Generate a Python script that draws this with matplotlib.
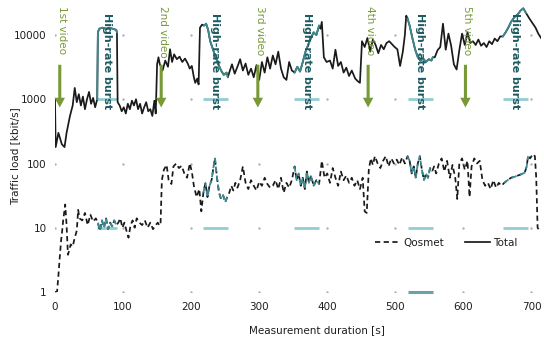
import numpy as np
import matplotlib
matplotlib.use("Agg")
import matplotlib.pyplot as plt

plt.rcParams['font.family'] = ['DejaVu Sans']

# ---------------- data ----------------
t_total = [0, 1, 5, 10, 14, 17, 22, 26, 29, 32, 35, 38, 41, 44, 47, 50, 53, 56, 59, 62,
           63, 65, 70, 75, 80, 85, 90, 91, 92, 95, 98, 101, 104, 107, 110, 113, 116, 119,
           122, 125, 128, 131, 134, 137, 140, 143, 146, 148, 150, 152, 154, 158, 162, 166,
           169, 172, 175, 179, 183, 187, 191, 195, 198, 201, 204, 206, 209, 211, 213, 216,
           219, 222, 225, 228, 232, 236, 240, 244, 248, 252, 254, 256, 260, 264, 268, 272,
           276, 280, 284, 288, 292, 296, 300, 304, 308, 312, 316, 320, 324, 328, 332, 336,
           340, 344, 348, 352, 356, 360, 364, 368, 372, 376, 380, 384, 388, 390, 392, 395,
           399, 404, 408, 412, 416, 420, 424, 428, 432, 436, 441, 445, 448, 451, 455, 459,
           463, 467, 471, 475, 479, 483, 487, 491, 495, 499, 503, 507, 511, 514, 516, 518,
           521, 525, 529, 533, 537, 541, 545, 549, 553, 555, 558, 562, 566, 570, 574, 578,
           582, 586, 590, 594, 598, 602, 606, 610, 614, 618, 622, 626, 630, 634, 638, 642,
           646, 650, 654, 658, 662, 666, 670, 675, 680, 684, 688, 692, 697, 702, 706, 710, 714]
total = [1000, 180, 300, 200, 180, 300, 550, 800, 1500, 900, 1200, 800, 1100, 700, 1000, 1300, 850, 1050, 750, 1000,
         11000, 12500, 13000, 12500, 13000, 12500, 12000, 11000, 900, 800, 650, 750, 600, 850, 700, 950, 800, 1000,
         700, 850, 600, 750, 900, 650, 700, 550, 950, 600, 3500, 4500, 3500, 2800, 4000, 3200,
         6000, 3800, 5000, 4200, 4600, 3800, 4300, 3600, 3000, 3300, 2200, 1800, 2100, 1700, 13000, 14500,
         14000, 15000, 12000, 8000, 6000, 4500, 3500, 2800, 2400, 2600, 2200, 2600, 3500, 2500, 3200, 4200,
         2800, 3600, 2400, 3000, 2200, 3400, 2000, 3800, 2600, 4500, 3000, 4800, 3500, 5500, 3000, 2200,
         2000, 3800, 2800, 2600, 3200, 2700, 3800, 5500, 7000, 9000, 11000, 10000, 14000, 12500, 16000, 4500,
         3800, 4000, 3000, 5900, 3300, 3800, 2600, 3100, 2300, 2800, 2100, 1900, 1800, 8000, 6500, 9000,
         5500, 8500, 7000, 5200, 7000, 6000, 7500, 8000, 7200, 6500, 6000, 3300, 5500, 10000, 20000, 18000,
         14000, 9000, 6000, 4500, 4000, 4300, 3800, 4200, 4000, 4500, 4500, 5800, 6500, 15000, 5900, 10500,
         6800, 3500, 2900, 5800, 10500, 7000, 11000, 7500, 8000, 7000, 8500, 6800, 7500, 6500, 8000, 7200,
         8800, 8000, 9500, 9500, 11000, 13000, 16000, 19000, 21000, 24000, 26000, 22000, 18000, 15000, 13000, 10500, 9000]

t_qosmet = [0, 3, 5, 7, 9, 10, 12, 14, 15, 17, 19, 21, 23, 26, 29, 32, 34, 36, 40, 44,
            48, 52, 56, 60, 63, 66, 69, 72, 75, 78, 81, 84, 87, 90, 93, 96, 99, 102, 105, 108,
            111, 114, 117, 120, 124, 128, 132, 136, 140, 144, 148, 151, 153, 155, 157, 160, 164, 167, 171, 174,
            178, 182, 186, 190, 194, 198, 201, 204, 208, 212, 215, 218, 221, 224, 227, 230, 233, 235, 238, 241,
            244, 247, 250, 253, 256, 259, 262, 265, 268, 272, 276, 280, 284, 288, 292, 296, 300, 304, 308, 312,
            316, 320, 324, 328, 332, 336, 340, 344, 348, 352, 355, 358, 361, 364, 367, 370, 373, 376, 380, 384,
            388, 392, 396, 400, 404, 408, 412, 416, 420, 424, 428, 432, 436, 440, 444, 448, 452, 455, 458, 461,
            464, 467, 470, 474, 478, 482, 486, 490, 494, 498, 502, 506, 510, 514, 518, 521, 524, 527, 530, 533,
            536, 539, 542, 545, 548, 551, 554, 557, 560, 564, 568, 572, 576, 580, 584, 588, 591, 594, 598, 602,
            606, 609, 612, 616, 620, 624, 628, 632, 636, 640, 644, 648, 652, 656, 660, 665, 670, 675, 680, 685,
            690, 693, 695, 698, 702, 705, 707, 709, 712]
qosmet = [1, 1, 1.8, 3.5, 6.4, 7.8, 13, 19, 23, 11, 3.8, 4.5, 5.5, 5.1, 7, 9, 19, 14, 13, 17,
          11, 16, 12.5, 14, 12, 9, 13, 10, 14, 9.5, 12, 10.5, 13, 11, 12, 14, 10, 12, 9, 7,
          11, 13, 10, 14, 12, 11, 13, 10, 12, 9.5, 11, 12, 11, 11, 55, 80, 95, 55, 48, 90,
          100, 85, 92, 70, 60, 100, 75, 45, 30, 40, 18, 35, 50, 30, 45, 55, 90, 120, 60, 35,
          28, 32, 25, 30, 35, 45, 38, 50, 42, 55, 90, 50, 40, 55, 45, 38, 52, 45, 60, 48,
          42, 45, 55, 40, 60, 35, 50, 42, 55, 90, 55, 70, 45, 60, 40, 75, 50, 65, 45, 55,
          48, 110, 60, 70, 50, 85, 60, 45, 75, 55, 65, 50, 60, 45, 55, 40, 60, 18, 17, 80,
          120, 95, 130, 100, 85, 110, 130, 90, 120, 100, 115, 95, 125, 100, 130, 110, 70, 90, 60, 100,
          130, 80, 55, 70, 60, 85, 75, 90, 70, 100, 120, 75, 110, 60, 95, 60, 28, 100, 120, 80,
          110, 30, 90, 120, 100, 110, 55, 45, 50, 40, 55, 42, 50, 45, 50, 55, 60, 62, 65, 68,
          72, 90, 130, 120, 140, 130, 60, 10, 9]

burst_start = [62, 217, 351, 518, 658]
burst_end = [91, 254, 388, 555, 695]
burst_label = "High-rate burst"
burst_marks = [1000, 10]

video_t = [7, 156, 298, 460, 603]
video_labels = ["1st video", "2nd video", "3rd video", "4th video", "5th video"]

x_ticks = [0, 100, 200, 300, 400, 500, 600, 700]
y_ticks = [1, 10, 100, 1000, 10000]
y_ticklabels = ["1", "10", "100", "1000", "10000"]

# ---------------- style ----------------
BLACK = "#1a1a1a"
TEAL = "#3b8a91"
TEAL_LIGHT = "#92cdd1"
TEAL_TEXT = "#1d5b61"
GREEN = "#779a36"
TXT = "#1e1e1e"

fig = plt.figure(figsize=(5.44, 3.37), dpi=100)
ax = fig.add_axes([55/544, 45/337, 486/544, 290/337])
ax.set_yscale('log')
ax.set_xlim(0, 714)
ax.set_ylim(1, 10**(290/64.25))

# grid dots
gx, gy = np.meshgrid(x_ticks, y_ticks)
ax.scatter(gx.ravel(), gy.ravel(), s=3, color="#b0b0b0", zorder=0, linewidths=0)

# burst marker lines
for s, e in zip(burst_start, burst_end):
    for m in burst_marks:
        ax.plot([s, e], [m, m], color=TEAL_LIGHT, lw=2, zorder=1, solid_capstyle='butt')
ax.plot([burst_start[3], burst_end[3]], [1, 1], color="#6aa2a7", lw=2.2, zorder=1,
        solid_capstyle='butt', clip_on=False)

tt = np.array(t_total); tv = np.array(total)
qt = np.array(t_qosmet); qv = np.array(qosmet)

ax.plot(tt, tv, color=BLACK, lw=1.25, zorder=3, label="Total")
ax.plot(qt, qv, color=BLACK, lw=1.25, ls=(0, (3, 2)), zorder=3, label="Qosmet")
for s, e in zip(burst_start, burst_end):
    m = (tt >= s) & (tt <= e)
    ax.plot(tt[m], tv[m], color=TEAL, lw=1.3, zorder=4)
    m = (qt >= s) & (qt <= e)
    ax.plot(qt[m], qv[m], color=TEAL, lw=1.3, ls=(0, (3, 2)), zorder=4)

# burst labels
for s, e in zip(burst_start, burst_end):
    ax.text((s + e) / 2, 10**(4 + 22/64.25), burst_label, rotation=270, ha='center', va='top',
            fontsize=8, fontweight='bold', color=TEAL_TEXT, zorder=5)

# video annotations
for vt, lab in zip(video_t, video_labels):
    ax.annotate("", xy=(vt, 10**(3 - 11/64.25)), xytext=(vt, 10**(4 - 27/64.25)),
                arrowprops=dict(arrowstyle="simple,head_width=0.75,head_length=0.7,tail_width=0.22",
                                mutation_scale=10, color=GREEN, lw=0), zorder=5)
    ax.text(vt + 3, 10**(4 + 29/64.25), lab, rotation=270, ha='center', va='top',
            fontsize=7.5, color=GREEN, zorder=5)

for sp in ax.spines.values():
    sp.set_visible(False)
ax.set_xticks(x_ticks)
ax.set_yticks(y_ticks)
ax.set_yticklabels(y_ticklabels)
ax.minorticks_off()
ax.tick_params(length=0, labelsize=7.5, labelcolor=TXT)
ax.tick_params(axis='y', pad=6)
ax.tick_params(axis='x', pad=7)

ax.set_ylabel("Traffic load [kbit/s]", fontsize=7.5, color=TXT)
ax.yaxis.set_label_coords(-0.072, 0.47)
ax.set_xlabel("Measurement duration [s]", fontsize=7.5, color=TXT)
ax.xaxis.set_label_coords(0.539, -0.115)

h, l = ax.get_legend_handles_labels()
ax.legend([h[1], h[0]], [l[1], l[0]], ncol=2, frameon=False, fontsize=7.5,
          loc='center', bbox_to_anchor=(0.805, 0.17), handlelength=2.4,
          columnspacing=2.0, handletextpad=0.3, labelcolor=TXT)

fig.savefig("out.png", dpi=100)
